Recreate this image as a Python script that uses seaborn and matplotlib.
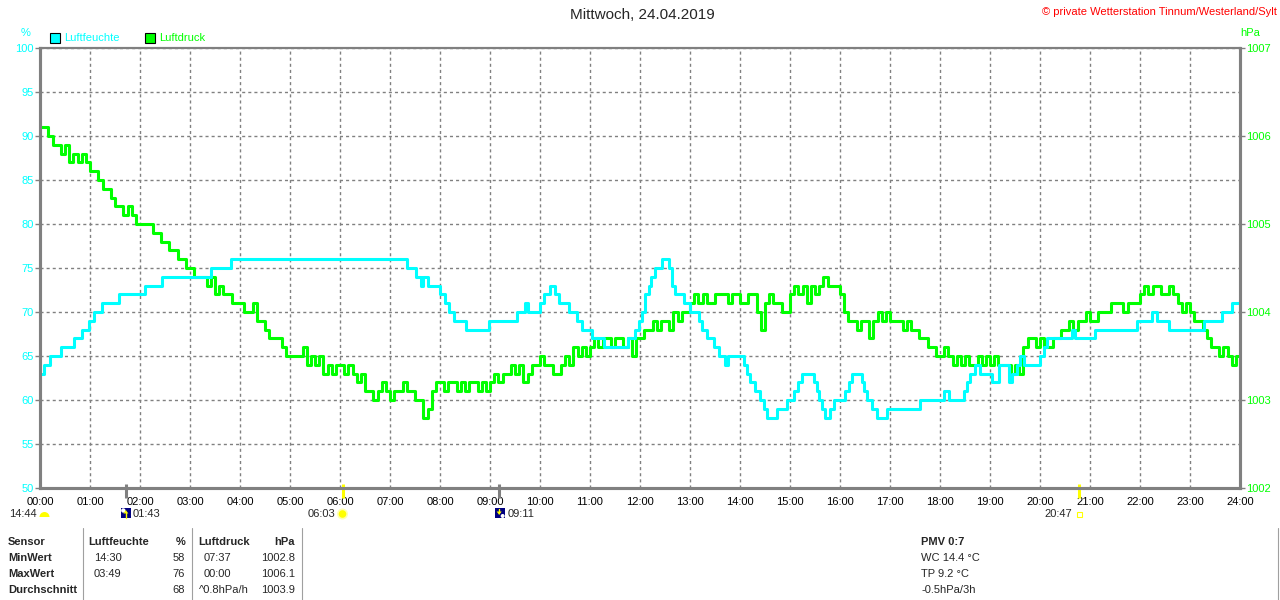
import numpy as np
import pandas as pd
import seaborn as sns
import matplotlib.pyplot as plt
import matplotlib.patches as mpatches

sns.set_style("white")
plt.rcParams['font.family'] = ['Liberation Sans', 'DejaVu Sans']

# Luftfeuchte in %, Stufenwerte ab der jeweiligen Uhrzeit (Stunden)
feuchte_zeit = [0.00, 0.07, 0.20, 0.41, 0.67, 0.83, 0.97, 1.07, 1.23, 1.58, 2.10, 2.43, 3.41, 3.81,
                7.33, 7.52, 7.62, 7.66, 7.75, 8.00, 8.10, 8.17, 8.27, 8.53, 8.97, 9.53, 9.70, 9.75,
                10.00, 10.07, 10.20, 10.30, 10.37, 10.57, 10.73, 10.83, 11.03, 11.27, 11.75, 11.90,
                11.97, 12.03, 12.10, 12.17, 12.22, 12.30, 12.43, 12.57, 12.63, 12.70, 12.87, 13.00,
                13.17, 13.23, 13.33, 13.47, 13.57, 13.70, 13.75, 14.07, 14.13, 14.20, 14.30, 14.40,
                14.47, 14.53, 14.73, 14.93, 15.07, 15.15, 15.23, 15.47, 15.53, 15.57, 15.63, 15.70,
                15.80, 15.87, 16.10, 16.17, 16.23, 16.43, 16.47, 16.53, 16.63, 16.73, 16.93, 17.60,
                18.07, 18.17, 18.47, 18.53, 18.60, 18.70, 18.80, 19.03, 19.17, 19.37, 19.43, 19.53,
                19.60, 19.67, 20.00, 20.07, 20.13, 20.63, 20.70, 21.10, 21.93, 22.23, 22.33, 22.57,
                23.27, 23.63, 23.83, 24.00]
feuchte_wert = [63, 64, 65, 66, 67, 68, 69, 70, 71, 72, 73, 74, 75, 76,
                75, 74, 73, 74, 73, 72, 71, 70, 69, 68, 69, 70, 71, 70,
                71, 72, 73, 72, 71, 70, 69, 68, 67, 66, 67, 68,
                69, 70, 72, 73, 74, 75, 76, 75, 73, 72, 71, 70,
                69, 68, 67, 66, 65, 64, 65, 64, 63, 62, 61, 60,
                59, 58, 59, 60, 61, 62, 63, 62, 61, 60, 59, 58,
                59, 60, 61, 62, 63, 62, 61, 60, 59, 58, 59, 60,
                61, 60, 61, 62, 63, 64, 63, 62, 64, 62, 63, 64,
                65, 64, 65, 66, 67, 68, 67, 68, 69, 70, 69, 68,
                69, 70, 71, 71]

# Luftdruck alle 5 Minuten, in Zehntel hPa ueber 1000 hPa
luftdruck_zehntel = [
    61, 61, 60, 59, 59, 58, 59, 57, 58, 57, 58, 57,  # 00
    56, 56, 55, 54, 54, 53, 52, 52, 51, 52, 51, 50,  # 01
    50, 50, 50, 49, 49, 48, 48, 47, 47, 46, 46, 45,  # 02
    45, 44, 44, 44, 43, 44, 42, 43, 42, 42, 41, 41,  # 03
    41, 40, 40, 41, 39, 39, 38, 37, 37, 37, 36, 35,  # 04
    35, 35, 35, 36, 34, 35, 34, 35, 33, 34, 33, 34,  # 05
    34, 33, 34, 33, 32, 33, 31, 31, 30, 31, 32, 31,  # 06
    30, 31, 31, 32, 31, 31, 30, 30, 28, 29, 31, 32,  # 07
    32, 31, 32, 32, 31, 32, 31, 32, 32, 31, 32, 31,  # 08
    32, 33, 32, 33, 33, 34, 33, 34, 32, 33, 34, 34,  # 09
    35, 34, 34, 33, 33, 34, 35, 34, 36, 35, 36, 35,  # 10
    36, 37, 36, 37, 37, 36, 37, 37, 36, 37, 35, 37,  # 11
    37, 38, 38, 39, 38, 39, 39, 38, 40, 39, 40, 40,  # 12
    41, 42, 41, 42, 41, 41, 42, 42, 42, 41, 42, 42,  # 13
    41, 41, 42, 42, 40, 38, 41, 42, 41, 41, 40, 40,  # 14
    42, 43, 42, 43, 41, 43, 42, 43, 44, 43, 43, 43,  # 15
    42, 40, 39, 39, 38, 39, 39, 37, 39, 40, 39, 40,  # 16
    39, 39, 39, 38, 39, 38, 38, 37, 37, 36, 36, 35,  # 17
    35, 36, 35, 34, 35, 34, 35, 34, 34, 35, 34, 35,  # 18
    34, 35, 34, 34, 34, 33, 34, 33, 36, 37, 37, 36,  # 19
    37, 36, 36, 37, 37, 38, 38, 39, 38, 39, 39, 40,  # 20
    39, 39, 40, 40, 40, 41, 41, 41, 40, 41, 41, 41,  # 21
    42, 43, 42, 43, 43, 42, 42, 43, 42, 41, 40, 41,  # 22
    40, 39, 39, 38, 37, 36, 36, 35, 36, 35, 34, 35,  # 23
    34]

stunden_labels = ["%02d:00" % h for h in range(25)]
feuchte_ticks = list(range(50, 101, 5))
druck_ticks = list(range(1002, 1008))

# Mond/Sonne: (Uhrzeit in h, Farbe der Marke)
ereignis_zeit = [1 + 43/60, 6 + 3/60, 9 + 11/60, 20 + 47/60]
ereignis_farbe = ['#808080', '#ffff00', '#808080', '#ffff00']

tabelle_kopf = ["Sensor", "Luftfeuchte", "%", "Luftdruck", "hPa"]
tabelle_zeilen = ["MinWert", "MaxWert", "Durchschnitt"]
feuchte_zeitpunkt = ["14:30", "03:49", ""]
feuchte_stat = ["58", "76", "68"]
druck_zeitpunkt = ["07:37", "00:00", "^0.8hPa/h"]
druck_stat = ["1002.8", "1006.1", "1003.9"]
info_zeilen = ["WC 14.4 \u00b0C", "TP 9.2 \u00b0C", "-0.5hPa/3h"]

CYAN = '#00ffff'
GREEN = '#00ff00'
GRAU = '#808080'
FS = 8

fig = plt.figure(figsize=(12.8, 6), dpi=100)
ax = fig.add_axes([40/1280, 112/600, 1200/1280, 440/600])
ax2 = ax.twinx()

df_druck = pd.DataFrame({'stunde': np.arange(len(luftdruck_zehntel)) * 5 / 60,
                         'hPa': 1000 + np.array(luftdruck_zehntel) / 10})
df_feuchte = pd.DataFrame({'stunde': feuchte_zeit, 'prozent': feuchte_wert})

sns.lineplot(data=df_druck, x='stunde', y='hPa', ax=ax, color=GREEN, lw=2.2,
             drawstyle='steps-post', estimator=None, legend=False)
sns.lineplot(data=df_feuchte, x='stunde', y='prozent', ax=ax2, color=CYAN, lw=2.2,
             drawstyle='steps-post', estimator=None, legend=False)

ax.set_xlim(0, 24)
ax.set_ylim(1002, 1007)
ax2.set_ylim(50, 100)
for a in (ax, ax2):
    a.set_xlabel('')
    a.set_ylabel('')

# Achsen tauschen: Feuchte links, Druck rechts
ax.yaxis.tick_right()
ax2.yaxis.tick_left()

ax.set_xticks(range(25))
ax.set_xticklabels(stunden_labels)
ax.set_yticks(druck_ticks)
ax.set_yticklabels([str(v) for v in druck_ticks])
ax.set_yticks(np.arange(1002, 1007.01, 0.5), minor=True)
ax2.set_yticks(feuchte_ticks)
ax2.set_yticklabels([str(v) for v in feuchte_ticks])

ax.grid(True, which='both', axis='y', color=GRAU, lw=1, linestyle=(0, (2.2, 2.2)))
ax.grid(True, which='major', axis='x', color=GRAU, lw=1, linestyle=(0, (2.2, 2.2)))

ax.tick_params(axis='x', colors=GRAU, labelcolor='black', length=3.6, width=1, pad=3, labelsize=FS)
ax.tick_params(axis='y', which='major', colors=GRAU, labelcolor=GREEN, length=3.6, width=1,
               pad=1, labelsize=FS, right=True, left=False)
ax.tick_params(axis='y', which='minor', length=0)
ax2.tick_params(axis='y', colors=GRAU, labelcolor=CYAN, length=3.6, width=1, pad=1,
                labelsize=FS, left=True, right=False)

for a in (ax, ax2):
    for name, s in a.spines.items():
        s.set_visible(True)
        s.set_color(GRAU)
        s.set_linewidth(1.5 if name == 'top' else 2.2)

# Marken fuer Mond/Sonne unter der x-Achse
trans = ax.get_xaxis_transform()
for t, c in zip(ereignis_zeit, ereignis_farbe):
    ax.plot([t, t], [-0.022, 0.008], transform=trans, color=c, lw=2.2,
            clip_on=False, solid_capstyle='butt', zorder=5)

# Overlay in Pixelkoordinaten fuer Texte und Symbole
over = fig.add_axes([0, 0, 1, 1], zorder=10)
over.set_xlim(0, 1280)
over.set_ylim(600, 0)
over.axis('off')


def px(t):
    return ax.transData.transform((t, 1002))[0]


over.text(642, 15, "Mittwoch, 24.04.2019", ha='center', va='center', fontsize=11)
over.text(1277, 12, "\u00a9 private Wetterstation Tinnum/Westerland/Sylt", ha='right',
          va='center', fontsize=FS, color='red')
over.text(26, 33, "%", ha='center', va='center', fontsize=FS, color=CYAN)
over.text(1250, 33, "hPa", ha='center', va='center', fontsize=FS, color=GREEN)

over.add_patch(mpatches.Rectangle((50, 33), 10, 10, facecolor=CYAN, edgecolor='black', lw=0.8))
over.text(64, 38, "Luftfeuchte", va='center', fontsize=FS, color=CYAN)
over.add_patch(mpatches.Rectangle((145, 33), 10, 10, facecolor=GREEN, edgecolor='black', lw=0.8))
over.text(159, 38, "Luftdruck", va='center', fontsize=FS, color=GREEN)

# Tageslaenge
over.text(37, 514, "14:44", ha='right', va='center', fontsize=FS)
over.add_patch(mpatches.Wedge((44.5, 517), 5, 180, 360, facecolor='#ffff00', edgecolor='none'))

# Mondaufgang
x_m = px(ereignis_zeit[0])
over.add_patch(mpatches.Rectangle((x_m - 5, 508), 10, 10, facecolor='#000080', edgecolor='none'))
over.add_patch(mpatches.Circle((x_m - 2.5, 510.5), 2.2, facecolor='white', edgecolor='none'))
over.add_patch(mpatches.Polygon([(x_m, 510), (x_m - 2.5, 513.5), (x_m + 2.5, 513.5)],
                                facecolor='#ffff00', edgecolor='none'))
over.plot([x_m, x_m], [513, 517.5], color='#ffff00', lw=1)
over.text(x_m + 7, 514, "01:43", ha='left', va='center', fontsize=FS)

# Sonnenaufgang
x_s = px(ereignis_zeit[1])
over.add_patch(mpatches.Circle((x_s, 514), 5.5, facecolor='#ffffb0', edgecolor='none'))
over.add_patch(mpatches.Circle((x_s, 514), 3.8, facecolor='#ffff00', edgecolor='none'))
over.text(x_s - 7, 514, "06:03", ha='right', va='center', fontsize=FS)

# Monduntergang
x_u = px(ereignis_zeit[2])
over.add_patch(mpatches.Rectangle((x_u - 4, 508), 10, 10, facecolor='#000080', edgecolor='none'))
over.add_patch(mpatches.Circle((x_u + 3.5, 516), 2, facecolor='white', edgecolor='none'))
over.add_patch(mpatches.Polygon([(x_u, 515), (x_u - 2.5, 511.5), (x_u + 2.5, 511.5)],
                                facecolor='#ffff00', edgecolor='none'))
over.plot([x_u, x_u], [508.5, 512], color='#ffff00', lw=1)
over.text(x_u + 8, 514, "09:11", ha='left', va='center', fontsize=FS)

# Sonnenuntergang
x_d = px(ereignis_zeit[3])
over.add_patch(mpatches.Rectangle((x_d - 2.5, 511.5), 5, 5, facecolor='none',
                                  edgecolor='#ffff00', lw=0.8))
over.text(x_d - 7, 514, "20:47", ha='right', va='center', fontsize=FS)

# Tabelle unten
for xl in (83, 192, 302, 1278):
    over.plot([xl, xl], [528, 600], color='#a0a0a0', lw=0.8)

kopf_x = [8, 88, 185, 198, 295]
kopf_ha = ['left', 'left', 'right', 'left', 'right']
for txt, xk, ha in zip(tabelle_kopf, kopf_x, kopf_ha):
    over.text(xk, 542, txt, ha=ha, va='center', fontsize=FS, fontweight='bold')

for i, name in enumerate(tabelle_zeilen):
    y = 558 + i * 16
    over.text(8, y, name, va='center', fontsize=FS, fontweight='bold')
    over.text(94, y, feuchte_zeitpunkt[i], va='center', fontsize=FS)
    over.text(185, y, feuchte_stat[i], ha='right', va='center', fontsize=FS)
    over.text(199 if i == 2 else 204, y, druck_zeitpunkt[i], va='center', fontsize=FS)
    over.text(295, y, druck_stat[i], ha='right', va='center', fontsize=FS)

over.text(921, 542, "PMV 0:7", va='center', fontsize=FS, fontweight='bold')
for i, txt in enumerate(info_zeilen):
    over.text(921, 558 + i * 16, txt, va='center', fontsize=FS)

fig.savefig("out.png", dpi=100)
